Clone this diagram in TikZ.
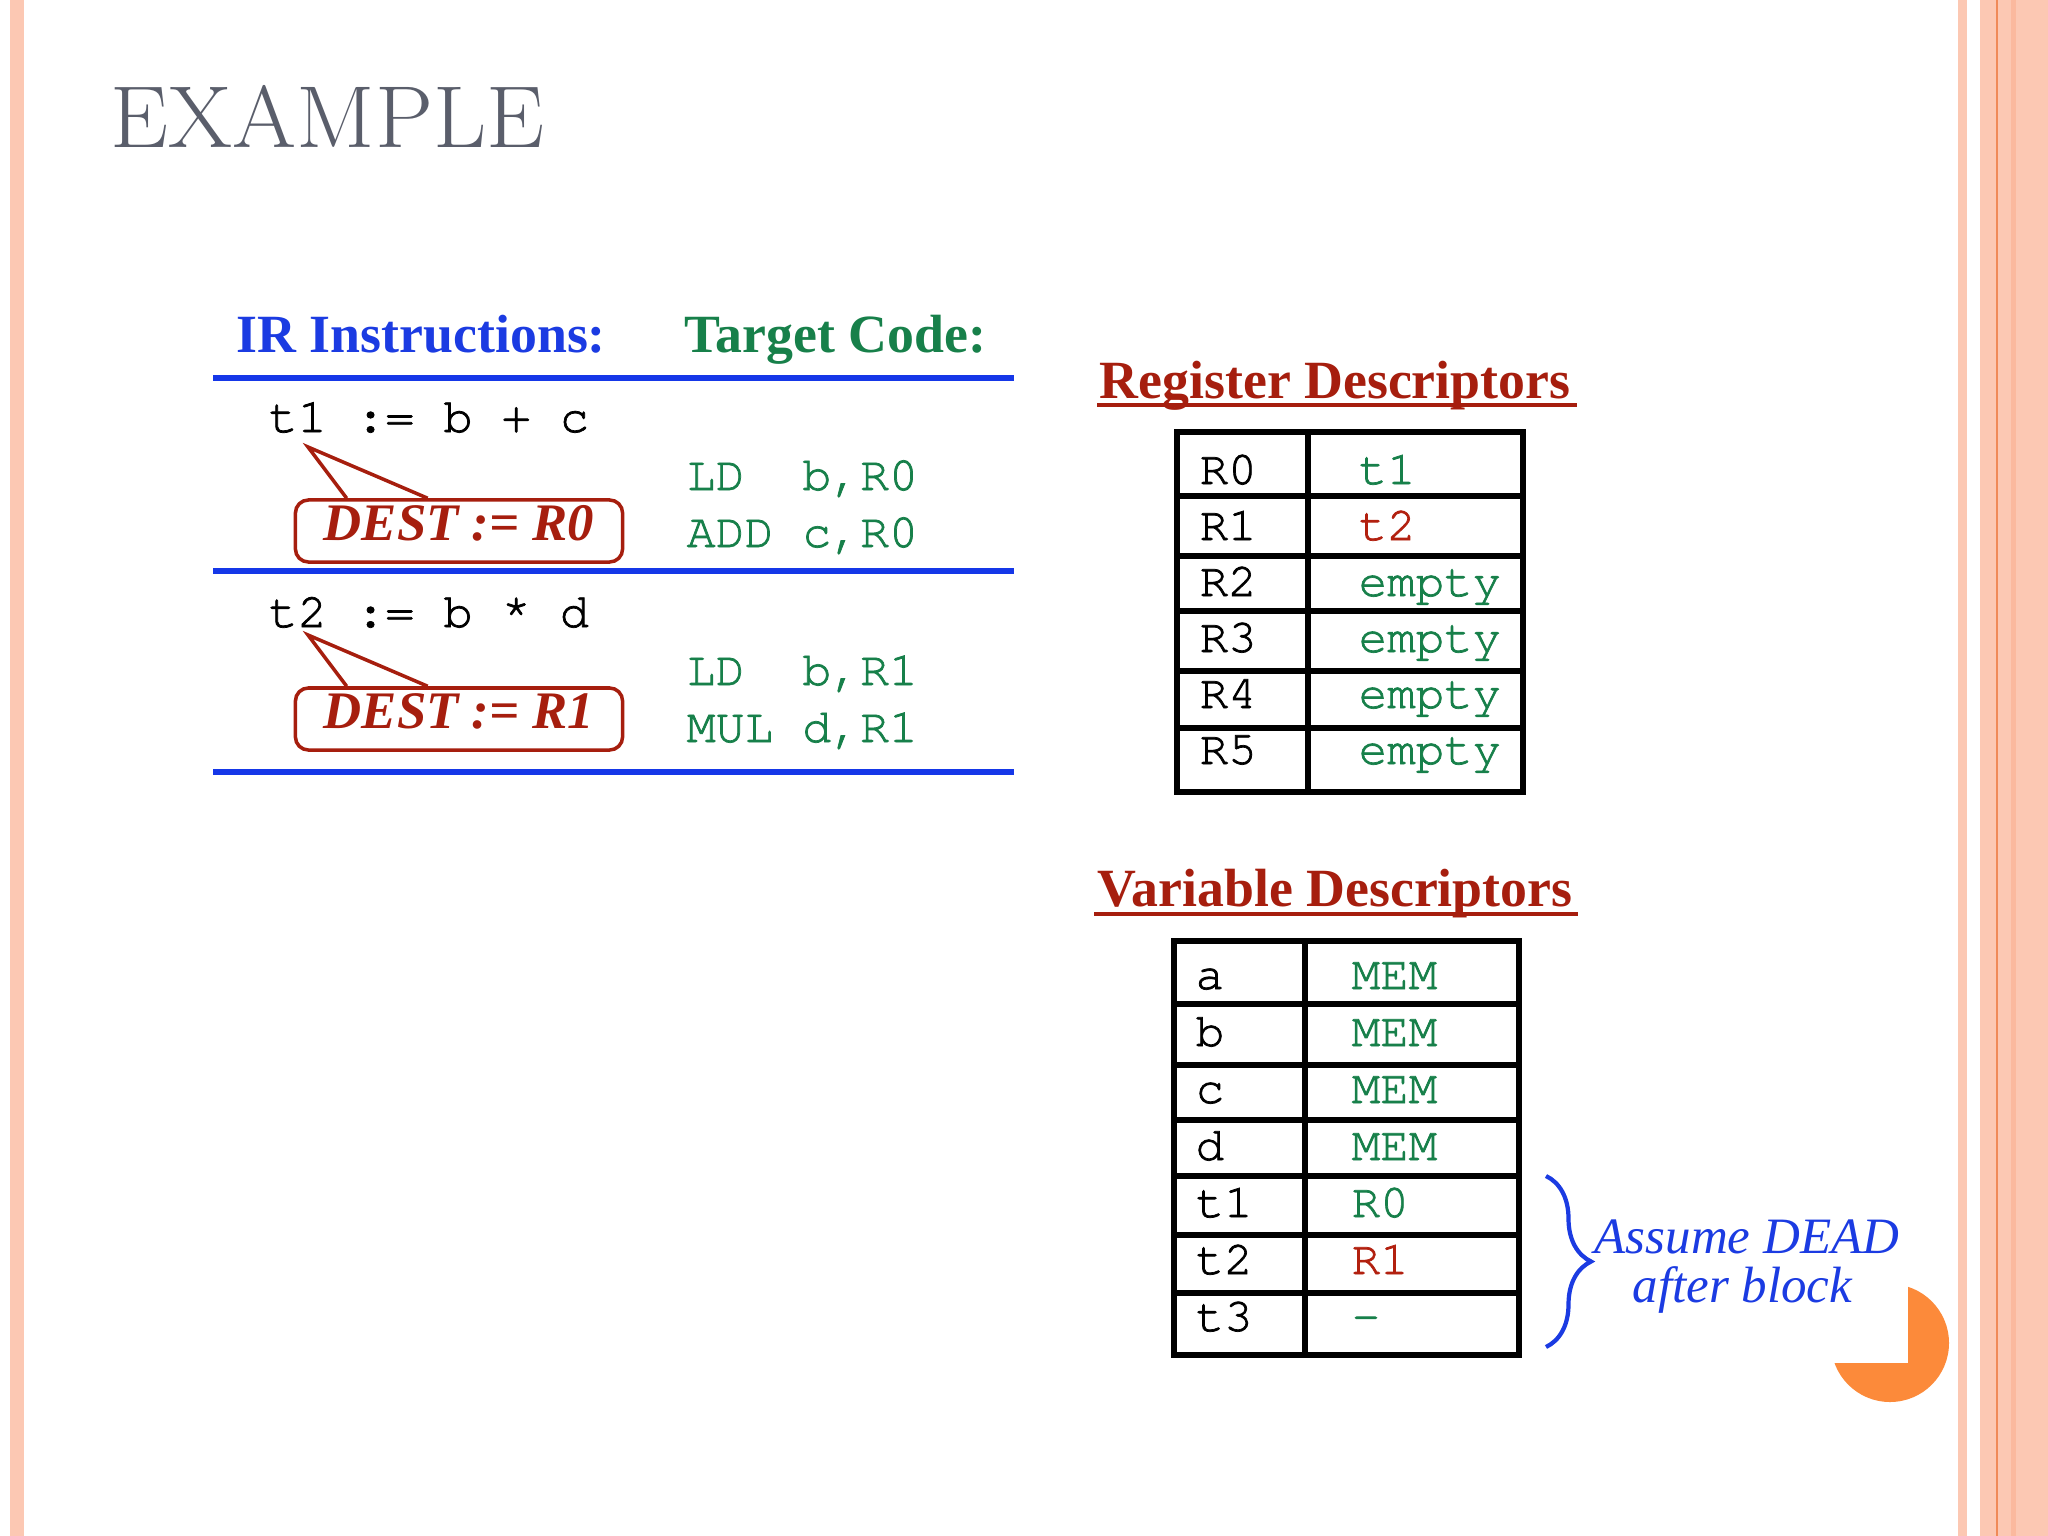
\documentclass[tikz,border=0pt]{standalone}
\usepackage{fontspec}
\usepackage{graphicx}
\usepackage{tikz}
\usetikzlibrary{calc,decorations.pathreplacing}
\setmonofont{texgyrecursor-regular.otf}[FakeBold=1.5]
\newfontfamily\slidefont{Liberation Serif}
\definecolor{peach}{HTML}{FCC8B3}
\definecolor{peachdark}{HTML}{FBB99E}
\definecolor{peachline}{HTML}{F08A58}
\definecolor{titlegray}{HTML}{5A5E6B}
\definecolor{irblue}{HTML}{1B3BE2}
\definecolor{ruleblue}{HTML}{1537E8}
\definecolor{codegreen}{HTML}{17804A}
\definecolor{descred}{HTML}{A61E0E}
\definecolor{tred}{HTML}{B2200F}
\definecolor{dotorange}{HTML}{FC8A3A}

\begin{document}
\begin{tikzpicture}[x=0.01cm, y=-0.01cm,
  head/.style={anchor=base west, inner sep=0, font=\slidefont\bfseries\fontsize{15.3}{18}\selectfont},
  code/.style={anchor=base west, inner sep=0, text=codegreen, font=\ttfamily\fontsize{13.7}{16}\selectfont},
  irline/.style={anchor=base west, inner sep=0, font=\ttfamily\fontsize{13.8}{17}\selectfont},
  cell/.style={anchor=base west, inner sep=0, font=\ttfamily\fontsize{13.5}{16}\selectfont},
  destbox/.style={draw=descred, line width=1pt, rounded corners=0.13cm, text=descred,
    minimum width=3.27cm, minimum height=0.62cm, inner sep=0, text height=0.35cm, text depth=0.17cm,
    font=\slidefont\bfseries\itshape\fontsize{15}{18}\selectfont},
  tail/.style={draw=descred, line width=1pt, line join=miter},
  rule/.style={draw=ruleblue, line width=1.45pt},
  grid/.style={draw=black, line width=1.45pt},
  note/.style={anchor=base west, inner sep=0, text=irblue, font=\slidefont\itshape\fontsize{14.5}{17}\selectfont}]
\useasboundingbox (0,0) rectangle (2048,1536);
\fill[white] (0,0) rectangle (2048,1536);

% slide frame
\fill[peach] (10,0) rectangle (24,1536);
\fill[peach] (1958,0) rectangle (1967,1536);
\fill[peach] (1980,0) rectangle (2048,1536);
\fill[peachdark] (2011,0) rectangle (2016,1536);
\draw[peachline, line width=0.6pt] (1997,0) -- (1997,1536);
\fill[dotorange] (1890,1343) circle (59);
\fill[white] (1825,1278) rectangle (1908,1363);

\node[anchor=base west, inner sep=0, text=titlegray, font=\fontsize{25}{28}\selectfont] (title) at (110,147) {\scalebox{1.05}[1]{EXAMPLE}};

% IR instructions and target code
\node[head, text=irblue] (irhead) at (236,352) {IR Instructions:};
\node[head, text=codegreen] (tchead) at (684,352) {Target Code:};
\draw[rule] (213,378) -- (1014,378);
\draw[rule] (213,571) -- (1014,571);
\draw[rule] (213,772) -- (1014,772);

\node[irline] (ir1) at (268,432) {t1 := b + c};
\node[destbox] (dest1) at (459,531) {DEST := R0};
\coordinate (tip1) at ($(ir1.base west)+(40,15)$);
\draw[tail] ($(dest1.north west)+(53,0)$) -- (tip1) -- ($(dest1.north west)+(134,0)$);
\node[code] (ld1) at (686,490) {LD\ \ b,R0};
\node[code] (add1) at (686,547) {ADD c,R0};

\node[irline] (ir2) at (268,627) {t2 := b * d};
\node[destbox] (dest2) at (459,719) {DEST := R1};
\coordinate (tip2) at ($(ir2.base west)+(40,8)$);
\draw[tail] ($(dest2.north west)+(53,0)$) -- (tip2) -- ($(dest2.north west)+(134,0)$);
\node[code] (ld2) at (686,685) {LD\ \ b,R1};
\node[code] (mul2) at (686,742) {MUL d,R1};

% register descriptors
\node[head, text=descred] (regdesc) at (1099,398) {Register Descriptors};
\draw[descred, line width=0.9pt] ($(regdesc.base west)+(-2,7)$) -- ($(regdesc.base east)+(6,7)$);
\draw[grid] (1177,432) rectangle (1523,792);
\draw[grid] (1308,432) -- (1308,792);
\foreach \y in {496,556,611,671,728}
  \draw[grid] (1177,\y) -- (1523,\y);
\foreach \r/\v/\c [count=\i from 0] in {R0/t1/codegreen, R1/t2/tred, R2/empty/codegreen,
    R3/empty/codegreen, R4/empty/codegreen, R5/empty/codegreen} {
  \node[cell] (reg\i) at (1199,{484+56*\i}) {\r};
  \node[cell, text=\c] (regval\i) at (1358,{484+56*\i}) {\v};
}

% variable descriptors
\node[head, text=descred] (vardesc) at (1097,906) {Variable Descriptors};
\draw[descred, line width=0.9pt] ($(vardesc.base west)+(-3,8)$) -- ($(vardesc.base east)+(5,8)$);
\draw[grid] (1174,941) rectangle (1519,1355);
\draw[grid] (1305,941) -- (1305,1355);
\foreach \y in {1004,1065,1120,1176,1235,1293}
  \draw[grid] (1174,\y) -- (1519,\y);
\foreach \n/\v/\c [count=\i from 0] in {a/MEM/codegreen, b/MEM/codegreen, c/MEM/codegreen,
    d/MEM/codegreen, t1/R0/codegreen, t2/R1/tred, t3/-/codegreen} {
  \node[cell] (var\i) at (1195,{989+57*\i}) {\n};
  \node[cell, text=\c] (varval\i) at (1351,{989+57*\i}) {\v};
}

% dead temporaries
\coordinate (bracetop) at (1546,1176);
\coordinate (bracebot) at (1546,1347);
\draw[irblue, line width=1.2pt, decorate, decoration={brace, amplitude=0.45cm}] (bracetop) -- (bracebot);
\node[note] (dead1) at (1594,1253) {Assume DEAD};
\node[note] (dead2) at (1632,1302) {after block};
\end{tikzpicture}
\end{document}
